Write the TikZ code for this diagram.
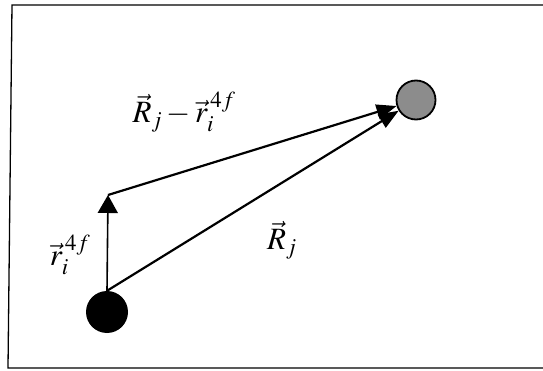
\documentclass[tikz,border=0pt]{standalone}
\usepackage{mathptmx}
\usetikzlibrary{arrows.meta}
\begin{document}
\begin{tikzpicture}[x=1pt,y=-1pt,
  frameline/.style={line width=1.3pt},
  vecline/.style={line width=2.2pt},
  bigtip/.style={-{Triangle[length=18pt,width=20pt]}},
  midtip/.style={-{Triangle[length=20pt,width=15pt]}},
  lbl/.style={font=\fontsize{31}{36}\selectfont, inner sep=0pt}]
\useasboundingbox (0,0) rectangle (543,371);
\draw[frameline] (543,5) -- (12,5) -- (8,368) -- (543,368);
\node[circle, fill=black, minimum size=42pt, inner sep=0pt] (a) at (107,312) {};
\node[circle, draw, line width=1.8pt, fill=black!45, minimum size=39pt, inner sep=0pt] (b) at (416,100) {};
\coordinate (t) at (108,195);
\draw[line width=1.6pt, bigtip] (a.north) -- (t);
\draw[vecline, midtip] (t) -- (b);
\draw[vecline, midtip] (a.north) -- (b);
\node[lbl] (l1) at (184,112) {$\vec{R}_j - \vec{r}_i^{\,4f}$};
\node[lbl] (l2) at (70,255) {$\vec{r}_i^{\,4f}$};
\node[lbl] (l3) at (282,240) {$\vec{R}_j$};
\end{tikzpicture}
\end{document}
